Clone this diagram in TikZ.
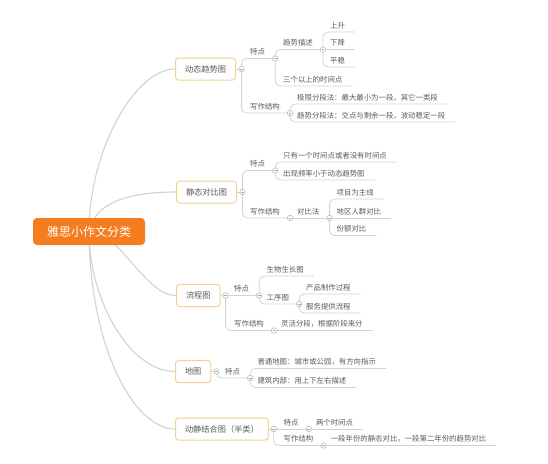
\documentclass[tikz,border=0pt]{standalone}
\usepackage{fontspec}
\setmainfont{Noto Sans CJK SC}
\usetikzlibrary{calc,backgrounds}
\definecolor{lineg}{HTML}{D2D2D2}
\definecolor{txtg}{HTML}{5A5A5A}
\definecolor{rootor}{HTML}{F57C1F}
\definecolor{boxbd}{HTML}{F0D48E}
\begin{document}
\begin{tikzpicture}[x=1pt,y=-1pt,
  leaf/.style={anchor=south west, inner xsep=0pt, inner ysep=2.8pt, text height=6pt, text depth=1pt, font=\fontsize{7.4}{8}\selectfont, text=txtg},
  topic/.style={anchor=west, draw=boxbd, line width=1pt, fill=white, rounded corners=3pt, inner xsep=9.5pt, inner ysep=0pt, minimum height=22pt, font=\fontsize{8.2}{10}\selectfont, text=txtg},
  rootbox/.style={fill=rootor, rounded corners=4pt, minimum width=112pt, minimum height=27pt, text=white, font=\fontsize{12}{14}\selectfont},
  conn/.style={draw=lineg, line width=0.8pt, rounded corners=5pt},
  curve/.style={draw=lineg, line width=1.1pt},
  togg/.style={circle, draw=gray!55, fill=white, line width=0.6pt, inner sep=0pt, minimum size=5.5pt,
    path picture={\draw[gray!70, line width=0.5pt] ([xshift=-1.4pt]path picture bounding box.center) -- ([xshift=1.4pt]path picture bounding box.center);}}
]
\useasboundingbox (0,0) rectangle (548,463);

% root and topics
\node[rootbox] (root) at (89,231.5) {雅思小作文分类};
\node[topic] (b1) at (175,69) {动态趋势图};
\node[topic] (b2) at (176,192) {静态对比图};
\node[topic] (b3) at (176,295.5) {流程图};
\node[topic] (b4) at (175,371.5) {地图};
\node[topic] (b5) at (175,429) {动静结合图（半类）};

\begin{scope}[on background layer]
\fill[white] (0,0) rectangle (548,463);
\draw[curve] (root.center) .. controls +(0,-81) and +(-40,0) .. (b1.west);
\draw[curve] (root.center) .. controls +(6,-30) and +(-45,0) .. (b2.west);
\draw[curve] (root.center) .. controls +(31,0) and +(-31,0) .. (b3.west);
\draw[curve] (root.center) .. controls +(0,69) and +(-45,0) .. (b4.west);
\draw[curve] (root.center) .. controls +(1,119) and +(-40,0) .. (b5.west);
\end{scope}

% branch 1
\node[leaf] (c11) at (250,58.5) {特点};
\node[leaf] (c12) at (250,113) {写作结构};
\node[leaf] (c111) at (283,49.5) {趋势描述};
\node[leaf] (c112) at (283,86) {三个以上的时间点};
\node[leaf] (c1111) at (330,32) {上升};
\node[leaf] (c1112) at (330,49.5) {下降};
\node[leaf] (c1113) at (330,67) {平稳};
\node[leaf] (c121) at (297,104) {极限分段法：最大最小为一段，其它一类段};
\node[leaf] (c122) at (297,122) {趋势分段法：交点与剩余一段，波动稳定一段};

% branch 2
\node[leaf] (c21) at (250,170.5) {特点};
\node[leaf] (c22) at (250,218) {写作结构};
\node[leaf] (c211) at (283,162) {只有一个时间点或者没有时间点};
\node[leaf] (c212) at (283,180) {出现频率小于动态趋势图};
\node[leaf] (c221) at (297,218) {对比法};
\node[leaf] (c2211) at (336.5,199) {项目为主线};
\node[leaf] (c2212) at (336.5,218) {地区人群对比};
\node[leaf] (c2213) at (336.5,235.5) {份额对比};

% branch 3
\node[leaf] (c31) at (234,295.5) {特点};
\node[leaf] (c32) at (234,330.5) {写作结构};
\node[leaf] (c311) at (266.5,276) {生物生长图};
\node[leaf] (c312) at (266.5,304) {工序图};
\node[leaf] (c3121) at (306,294) {产品制作过程};
\node[leaf] (c3122) at (306,313) {服务提供流程};
\node[leaf] (c321) at (281,330.5) {灵活分段，根据阶段来分};

% branch 4
\node[leaf] (c41) at (225,378) {特点};
\node[leaf] (c411) at (257.3,368.5) {普通地图：城市或公园，有方向指示};
\node[leaf] (c412) at (257.3,387.5) {建筑内部：用上下左右描述};

% branch 5
\node[leaf] (c51) at (283.5,429) {特点};
\node[leaf] (c52) at (283.5,445.5) {写作结构};
\node[leaf] (c511) at (315.8,429) {两个时间点};
\node[leaf] (c521) at (330.6,445.5) {一段年份的静态对比，一段第二年份的趋势对比};

% junction points
\coordinate (p1) at ([xshift=5.5pt]b1.east);
\coordinate (p2) at ([xshift=5.5pt]b2.east);
\coordinate (p3) at ([xshift=5pt]b3.east);
\coordinate (p4) at ([xshift=5pt]b4.east);
\coordinate (p5) at ([xshift=5pt]b5.east);
\foreach \n in {c11,c12,c111,c21,c22,c221,c31,c32,c312,c41,c51,c52}{
  \coordinate (e\n) at ([xshift=10pt]\n.south east);
}
\foreach \n in {c112,c1111,c1112,c1113,c121,c122,c211,c212,c2211,c2212,c2213,c311,c3121,c3122,c321,c411,c412,c511,c521}{
  \coordinate (e\n) at ([xshift=10pt]\n.south east);
}

% connectors
\draw[conn] (b1.east) -- (p1);
\draw[conn] (p1) |- (ec11);
\draw[conn] (p1) |- (ec12);
\draw[conn] (ec11) |- (ec111);
\draw[conn] (ec11) |- (ec112);
\draw[conn] (ec111) |- (ec1111);
\draw[conn] (ec111) -- (ec1112);
\draw[conn] (ec111) |- (ec1113);
\draw[conn] (ec12) |- (ec121);
\draw[conn] (ec12) |- (ec122);

\draw[conn] (b2.east) -- (p2);
\draw[conn] (p2) |- (ec21);
\draw[conn] (p2) |- (ec22);
\draw[conn] (ec21) |- (ec211);
\draw[conn] (ec21) |- (ec212);
\draw[conn] (ec22) -- (ec221);
\draw[conn] (ec221) |- (ec2211);
\draw[conn] (ec221) -- (ec2212);
\draw[conn] (ec221) |- (ec2213);

\draw[conn] (b3.east) -- (p3);
\draw[conn] (p3) -- (ec31);
\draw[conn] (p3) |- (ec32);
\draw[conn] (ec31) |- (ec311);
\draw[conn] (ec31) |- (ec312);
\draw[conn] (ec312) |- (ec3121);
\draw[conn] (ec312) |- (ec3122);
\draw[conn] (ec32) -- (ec321);

\draw[conn] (b4.east) -- (p4);
\draw[conn] (p4) |- (ec41);
\draw[conn] (ec41) |- (ec411);
\draw[conn] (ec41) |- (ec412);

\draw[conn] (b5.east) -- (p5);
\draw[conn] (p5) -- (ec51);
\draw[conn] (p5) |- (ec52);
\draw[conn] (ec51) -- (ec511);
\draw[conn] (ec52) -- (ec521);

% toggles
\node[togg] (m1) at (p1) {};
\node[togg] (m2) at (p2) {};
\node[togg] (m3) at (p3) {};
\node[togg] (m4) at (p4) {};
\node[togg] (m5) at (p5) {};
\foreach \n in {c11,c12,c111,c21,c22,c221,c31,c32,c312,c41,c51,c52}{
  \node[togg] (m\n) at (e\n) {};
}
\end{tikzpicture}
\end{document}
